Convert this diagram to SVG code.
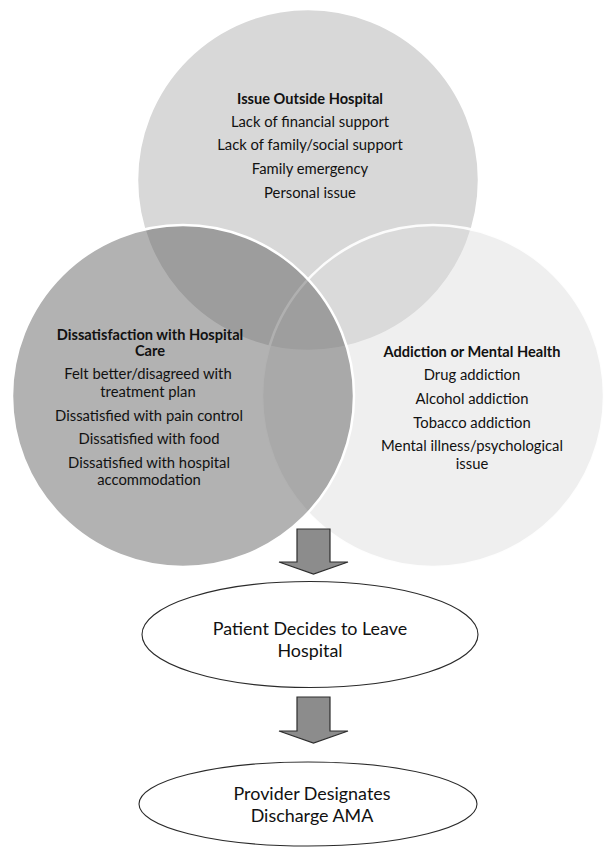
<svg xmlns="http://www.w3.org/2000/svg" width="607" height="853" viewBox="0 0 607 853">
  <style>
    .ring { stroke: #ffffff; stroke-width: 2.5; }
    .txt { font-family: Lato, "Liberation Sans", sans-serif; font-size: 14.8px; fill: #111111; text-anchor: middle; }
    .hd { font-weight: bold; font-size: 14.6px; }
    .big { font-size: 17.9px; }
    .oval { fill: #ffffff; stroke: #2a2a2a; stroke-width: 1.1; }
    .block { fill: #8c8c8c; stroke: #2e2e2e; stroke-width: 1.2; stroke-linejoin: miter; }
  </style>
  <rect width="607" height="853" fill="#ffffff"/>

  <!-- Venn: outside-hospital issues -->
  <g id="issue-outside">
    <circle class="ring" cx="308" cy="180" r="171" fill="#d8d8d8"/>
    <text class="txt hd" x="310" y="104">Issue Outside Hospital</text>
    <text class="txt" x="310" y="127">Lack of financial support</text>
    <text class="txt" x="310" y="150">Lack of family/social support</text>
    <text class="txt" x="310" y="174">Family emergency</text>
    <text class="txt" x="310" y="198">Personal issue</text>
  </g>

  <!-- Venn: addiction / mental health (translucent) -->
  <g id="addiction">
    <circle class="ring" cx="433" cy="396" r="171" fill="#dcdcdc" fill-opacity="0.46" stroke-opacity="0.9"/>
    <text class="txt hd" x="472" y="357">Addiction or Mental Health</text>
    <text class="txt" x="472" y="380">Drug addiction</text>
    <text class="txt" x="472" y="404">Alcohol addiction</text>
    <text class="txt" x="472" y="428">Tobacco addiction</text>
    <text class="txt" x="472" y="451">Mental illness/psychological</text>
    <text class="txt" x="472" y="468.5">issue</text>
  </g>

  <!-- Venn: dissatisfaction with care (translucent, on top) -->
  <g id="dissatisfaction">
    <circle class="ring" cx="183" cy="396" r="171" fill="#585858" fill-opacity="0.46"/>
    <text class="txt hd" x="150" y="340">Dissatisfaction with Hospital</text>
    <text class="txt hd" x="150" y="356">Care</text>
    <text class="txt" x="148" y="379">Felt better/disagreed with</text>
    <text class="txt" x="148" y="396.5">treatment plan</text>
    <text class="txt" x="149" y="421">Dissatisfied with pain control</text>
    <text class="txt" x="149" y="444">Dissatisfied with food</text>
    <text class="txt" x="149" y="468">Dissatisfied with hospital</text>
    <text class="txt" x="149" y="485">accommodation</text>
  </g>

  <!-- Block arrows -->
  <g id="connectors">
    <path class="block" d="M297,529 H330 V562 H348 L313.5,574 L279,562 H297 Z"/>
    <path class="block" d="M297,697 H330 V731 H348 L313.5,743 L279,731 H297 Z"/>
  </g>

  <g id="patient-decides">
    <ellipse class="oval" cx="310" cy="634.5" rx="168" ry="53"/>
    <text class="txt big" x="310" y="635">Patient Decides to Leave</text>
    <text class="txt big" x="310" y="657">Hospital</text>
  </g>

  <g id="provider-designates">
    <ellipse class="oval" cx="308" cy="804" rx="169" ry="42"/>
    <text class="txt big" x="312" y="800">Provider Designates</text>
    <text class="txt big" x="312" y="822">Discharge AMA</text>
  </g>
</svg>
